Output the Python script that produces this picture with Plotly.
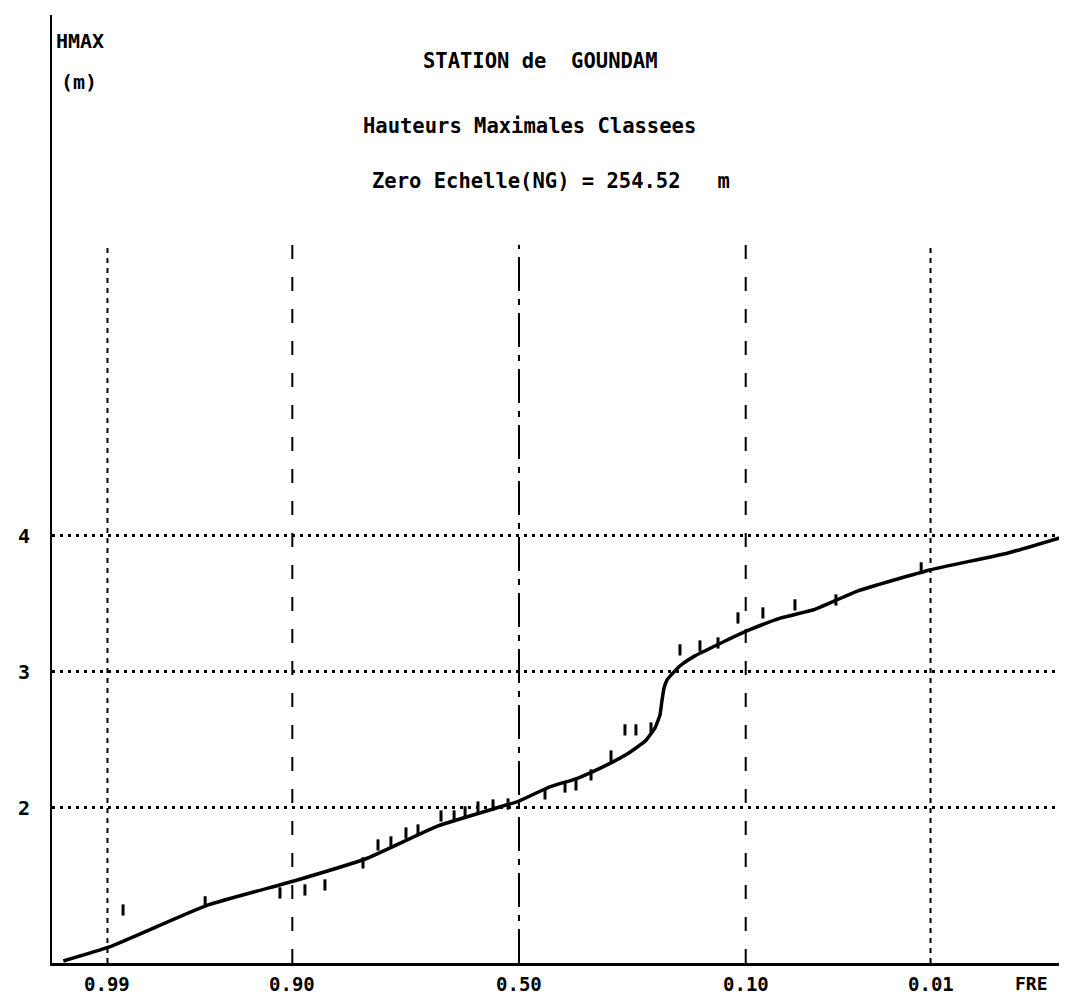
import plotly.graph_objects as go
from statistics import NormalDist

# ---------------- data ----------------
tick_freq = [0.99, 0.90, 0.50, 0.10, 0.01]
tick_text = ["0.99", "0.90", "0.50", "0.10", "0.01"]
y_ticks = [2, 3, 4]
y_tick_text = ["2", "3", "4"]

# fitted curve : frequency (exceedance) / height (m)
curve_freq = [0.9950, 0.9897, 0.9606, 0.8983, 0.8035, 0.6765, 0.5000, 0.4349,
              0.3692, 0.3075, 0.2690, 0.2382, 0.2210, 0.2127, 0.2096, 0.2061,
              0.2013, 0.1919, 0.1798, 0.1599, 0.1267, 0.0977, 0.0693, 0.0472,
              0.0277, 0.0101, 0.00285, 0.000868]
curve_h = [0.875, 0.978, 1.287, 1.463, 1.632, 1.868, 2.051, 2.150,
           2.220, 2.320, 2.400, 2.490, 2.588, 2.684, 2.787, 2.882,
           2.941, 2.993, 3.051, 3.118, 3.213, 3.305, 3.397, 3.460,
           3.596, 3.750, 3.875, 4.015]

# observed (classed) maxima
obs_freq = [0.9874, 0.9620, 0.9117, 0.8869, 0.8637, 0.8111, 0.7873, 0.7655,
            0.7386, 0.7160, 0.6704, 0.6432, 0.6198, 0.5917, 0.5584, 0.5247,
            0.4416, 0.3974, 0.3737, 0.3420, 0.3015, 0.2746, 0.2543, 0.2278,
            0.1814, 0.1532, 0.1303, 0.1079, 0.0840, 0.0594, 0.0366, 0.0115]
obs_h = [1.250, 1.310, 1.375, 1.397, 1.434, 1.596, 1.728, 1.750,
         1.816, 1.838, 1.941, 1.941, 1.971, 2.007, 2.022, 2.029,
         2.103, 2.154, 2.169, 2.243, 2.382, 2.574, 2.574, 2.588,
         3.162, 3.191, 3.213, 3.397, 3.434, 3.493, 3.529, 3.765]

title_lines = ["STATION de\u00a0\u00a0GOUNDAM",
               "Hauteurs Maximales Classees",
               "Zero Echelle(NG) = 254.52\u00a0\u00a0\u00a0m"]
x_label = "FRE"
y_label = ["HMAX", "(m)"]

# ---------------- gaussian scale ----------------
nd = NormalDist()


def u(f):
    return nd.inv_cdf(1.0 - f)


FONT = "DejaVu Sans Mono"
W, H = 1067, 999
ML, MR, MT, MB = 44, 0, 7, 44
PW, PH = W - ML - MR, H - MT - MB


def px(x):
    return (x - ML) / PW


def py(y):
    return (H - MB - y) / PH


fig = go.Figure()

fig.add_trace(go.Scatter(
    x=[u(f) for f in curve_freq], y=curve_h, mode="lines",
    line=dict(color="black", width=3.5, shape="spline", smoothing=0.4),
    hoverinfo="skip"))

fig.add_trace(go.Scatter(
    x=[u(f) for f in obs_freq], y=obs_h, mode="markers",
    marker=dict(symbol="line-ns", size=8, color="black",
                line=dict(color="black", width=3)),
    hoverinfo="skip"))

dashes = ["5px,5px", "14px,18px", "34px,8px,6px,8px", "14px,18px", "5px,5px"]
for f, d in zip(tick_freq, dashes):
    fig.add_shape(type="line", xref="x", yref="y",
                  x0=u(f), x1=u(f), y0=0.86, y1=6.14,
                  line=dict(color="black", width=2, dash=d), layer="below")

tfont = dict(family=FONT, size=19, color="black", weight="bold")
ann = []
title_pos = [(532, 53), (521, 118), (543, 173)]
for t, (x, y) in zip(title_lines, title_pos):
    ann.append(dict(text=t, xref="paper", yref="paper", x=px(x), y=py(y),
                    xanchor="center", yanchor="middle", showarrow=False,
                    font=dict(family=FONT, size=20.5, color="black", weight="bold")))
for t, (x, y) in zip(y_label, [(72, 33), (71, 74)]):
    ann.append(dict(text=t, xref="paper", yref="paper", x=px(x), y=py(y),
                    xanchor="center", yanchor="middle", showarrow=False,
                    font=dict(family=FONT, size=20, color="black", weight="bold")))
ann.append(dict(text=x_label, xref="paper", yref="paper", x=px(1023), y=py(976),
                xanchor="center", yanchor="middle", showarrow=False,
                font=dict(family=FONT, size=18, color="black", weight="bold")))
for f, t in zip(tick_freq, tick_text):
    ann.append(dict(text=t, xref="x", yref="paper", x=u(f), y=py(976),
                    xanchor="center", yanchor="middle", showarrow=False,
                    font=tfont))
for v, t in zip(y_ticks, y_tick_text):
    ann.append(dict(text=t, xref="paper", yref="y", x=px(16), y=v,
                    xanchor="center", yanchor="middle", showarrow=False,
                    font=dict(family=FONT, size=20, color="black", weight="bold")))

fig.update_layout(
    width=W, height=H, margin=dict(l=ML, r=MR, t=MT, b=MB),
    paper_bgcolor="white", plot_bgcolor="white", showlegend=False,
    annotations=ann,
    xaxis=dict(range=[-2.640, 3.143], showgrid=False, zeroline=False,
               showticklabels=False, ticks="",
               showline=True, linecolor="black", linewidth=3),
    yaxis=dict(range=[0.86, 7.83], showgrid=True, gridcolor="black",
               griddash="3px,5px", gridwidth=3, zeroline=False,
               tickmode="array", tickvals=y_ticks,
               showticklabels=False, ticks="",
               showline=True, linecolor="black", linewidth=2),
)

fig.write_html("out.html")
